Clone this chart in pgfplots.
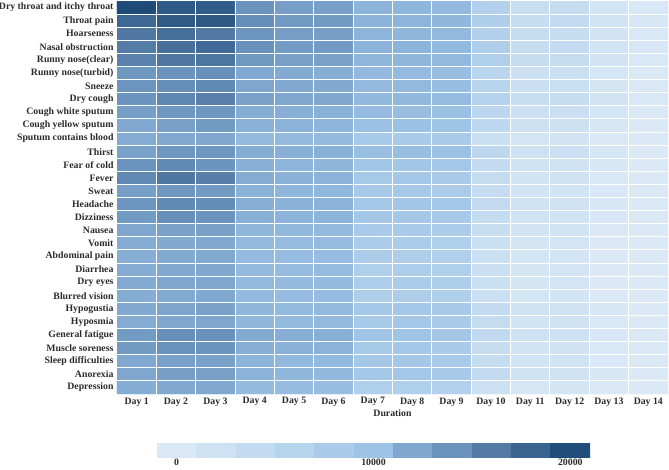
\documentclass[border=0pt]{standalone}
\usepackage{fontspec}
\setmainfont{Liberation Serif}
\usepackage{pgfplots}
\pgfplotsset{compat=1.18}
\definecolor{txt}{HTML}{2B2B2B}
\pgfplotsset{
  colormap={symblue}{
    rgb255(0cm)=(226,238,248) rgb255(1cm)=(219,233,246) rgb255(3cm)=(206,226,243)
    rgb255(5cm)=(195,219,240) rgb255(7cm)=(183,212,237) rgb255(9cm)=(171,203,233)
    rgb255(11cm)=(157,195,230) rgb255(13cm)=(127,167,207) rgb255(15cm)=(106,147,189)
    rgb255(17cm)=(83,123,166) rgb255(19cm)=(58,101,144) rgb255(21cm)=(33,77,122)
    rgb255(22cm)=(27,69,114)
  },
}
\newcommand{\lblfont}{\fontsize{9.8}{11}\selectfont\bfseries}

\begin{document}
\begin{tikzpicture}
\path[use as bounding box] (-117pt,-75pt) rectangle (552pt,394pt);

\begin{axis}[
  at={(0pt,0pt)}, anchor=south west,
  scale only axis, width=551pt, height=393pt,
  xmin=0.5, xmax=14.5, ymin=0.5, ymax=30.5,
  y dir=reverse,
  colormap name=symblue,
  point meta min=-1000, point meta max=21000,
  xtick={1,...,14},
  xticklabels={Day 1,Day 2,Day 3,Day 4,Day 5,Day 6,Day 7,Day 8,Day 9,Day 10,Day 11,Day 12,Day 13,Day 14},
  ytick={1,...,30},
  yticklabels={Dry throat and itchy throat,Throat pain,Hoarseness,Nasal obstruction,
    Runny nose(clear),Runny nose(turbid),Sneeze,Dry cough,Cough white sputum,
    Cough yellow sputum,Sputum contains blood,Thirst,Fear of cold,Fever,Sweat,
    Headache,Dizziness,Nausea,Vomit,Abdominal pain,Diarrhea,Dry eyes,Blurred vision,
    Hypogustia,Hyposmia,General fatigue,Muscle soreness,Sleep difficulties,Anorexia,Depression},
  minor xtick={1.5,2.5,...,13.5},
  minor ytick={1.5,2.5,...,29.5},
  grid=minor,
  minor grid style={white, line width=1pt},
  major tick length=0pt, minor tick length=0pt,
  axis line style={draw=none},
  axis on top,
  tick label style={font=\lblfont, text=txt},
  xlabel={Duration},
  xlabel style={font=\lblfont, text=txt, yshift=3pt},
]
% symptom x day counts (rows top to bottom)
\addplot[matrix plot*, mesh/cols=14, point meta=explicit] coordinates {
(1,1)[20300] (2,1)[18900] (3,1)[18650] (4,1)[14000] (5,1)[12850] (6,1)[12750] (7,1)[11070] (8,1)[10930] (9,1)[10670] (10,1)[6670] (11,1)[3300] (12,1)[3650] (13,1)[1230] (14,1)[300]
(1,2)[17760] (2,2)[18900] (3,2)[19000] (4,2)[14430] (5,2)[13240] (6,2)[13140] (7,2)[11130] (8,2)[11070] (9,2)[10870] (10,2)[7290] (11,2)[3650] (12,2)[4000] (13,2)[1540] (14,2)[460]
(1,3)[16240] (2,3)[17040] (3,3)[16160] (4,3)[13810] (5,3)[12950] (6,3)[12850] (7,3)[11070] (8,3)[10930] (9,3)[10670] (10,3)[6830] (11,3)[3450] (12,3)[3650] (13,3)[1380] (14,3)[300]
(1,4)[15910] (2,4)[16960] (3,4)[17440] (4,4)[14170] (5,4)[13140] (6,4)[13240] (7,4)[11130] (8,4)[11070] (9,4)[10800] (10,4)[7290] (11,4)[3650] (12,4)[4000] (13,4)[1540] (14,4)[460]
(1,5)[15480] (2,5)[16320] (3,5)[16560] (4,5)[13430] (5,5)[12760] (6,5)[12570] (7,5)[10930] (8,5)[10930] (9,5)[10730] (10,5)[7170] (11,5)[3450] (12,5)[3820] (13,5)[1380] (14,5)[300]
(1,6)[13520] (2,6)[14090] (3,6)[14260] (4,6)[11900] (5,6)[11730] (6,6)[11530] (7,6)[10670] (8,6)[10600] (9,6)[10330] (10,6)[5500] (11,6)[2550] (12,6)[2910] (13,6)[920] (14,6)[100]
(1,7)[13810] (2,7)[14430] (3,7)[14870] (4,7)[12090] (5,7)[11930] (6,7)[11800] (7,7)[10670] (8,7)[10670] (9,7)[10400] (10,7)[5670] (11,7)[2730] (12,7)[3090] (13,7)[1080] (14,7)[150]
(1,8)[13900] (2,8)[15040] (3,8)[15560] (4,8)[12480] (5,8)[12090] (6,8)[12000] (7,8)[10800] (8,8)[10800] (9,8)[10530] (10,8)[6330] (11,8)[3300] (12,8)[3650] (13,8)[1380] (14,8)[300]
(1,9)[12850] (2,9)[13520] (3,9)[13710] (4,9)[11600] (5,9)[11470] (6,9)[11330] (7,9)[10530] (8,9)[10400] (9,9)[10200] (10,9)[5330] (11,9)[2550] (12,9)[2730] (13,9)[920] (14,9)[0]
(1,10)[11930] (2,10)[12670] (3,10)[13240] (4,10)[11270] (5,10)[11200] (6,10)[11070] (7,10)[10200] (8,10)[10130] (9,10)[9860] (10,10)[4830] (11,10)[2180] (12,10)[2360] (13,10)[770] (14,10)[0]
(1,11)[11670] (2,11)[11930] (3,11)[12000] (4,11)[10670] (5,11)[10670] (6,11)[10600] (7,11)[8570] (8,11)[8290] (9,11)[8140] (10,11)[3090] (11,11)[1230] (12,11)[1380] (13,11)[150] (14,11)[0]
(1,12)[12570] (2,12)[13620] (3,12)[13710] (4,12)[11600] (5,12)[11400] (6,12)[11330] (7,12)[10330] (8,12)[10330] (9,12)[10130] (10,12)[5170] (11,12)[2360] (12,12)[2550] (13,12)[920] (14,12)[0]
(1,13)[14000] (2,13)[14870] (3,13)[13900] (4,13)[11400] (5,13)[11070] (6,13)[11000] (7,13)[9290] (8,13)[9140] (9,13)[8710] (10,13)[4000] (11,13)[1690] (12,13)[1850] (13,13)[460] (14,13)[0]
(1,14)[14870] (2,14)[16480] (3,14)[15650] (4,14)[11600] (5,14)[11270] (6,14)[11130] (7,14)[8600] (8,14)[8710] (9,14)[8290] (10,14)[3820] (11,14)[1540] (12,14)[1690] (13,14)[300] (14,14)[0]
(1,15)[12850] (2,15)[13520] (3,15)[13240] (4,15)[11270] (5,15)[10930] (6,15)[10870] (7,15)[8430] (8,15)[8570] (9,15)[8000] (10,15)[3450] (11,15)[1380] (12,15)[1540] (13,15)[300] (14,15)[0]
(1,16)[13810] (2,16)[14870] (3,16)[14520] (4,16)[11530] (5,16)[11270] (6,16)[11200] (7,16)[9000] (8,16)[9140] (9,16)[8710] (10,16)[4170] (11,16)[1850] (12,16)[2000] (13,16)[460] (14,16)[0]
(1,17)[13240] (2,17)[14350] (3,17)[14000] (4,17)[11400] (5,17)[11130] (6,17)[11070] (7,17)[8710] (8,17)[8860] (9,17)[8430] (10,17)[3820] (11,17)[1690] (12,17)[1850] (13,17)[460] (14,17)[0]
(1,18)[12090] (2,18)[12570] (3,18)[12670] (4,18)[10930] (5,18)[10800] (6,18)[10730] (7,18)[8140] (8,18)[8140] (9,18)[7670] (10,18)[3300] (11,18)[1380] (12,18)[1540] (13,18)[150] (14,18)[0]
(1,19)[11670] (2,19)[11800] (3,19)[11930] (4,19)[10670] (5,19)[10530] (6,19)[10530] (7,19)[7670] (8,19)[7670] (9,19)[7170] (10,19)[2910] (11,19)[1080] (12,19)[1230] (13,19)[0] (14,19)[0]
(1,20)[11530] (2,20)[11730] (3,20)[11870] (4,20)[10600] (5,20)[10470] (6,20)[10470] (7,20)[7670] (8,20)[7500] (9,20)[7170] (10,20)[2730] (11,20)[1080] (12,20)[1230] (13,20)[0] (14,20)[0]
(1,21)[11600] (2,21)[11930] (3,21)[12000] (4,21)[10670] (5,21)[10530] (6,21)[10530] (7,21)[7170] (8,21)[7500] (9,21)[7170] (10,21)[2730] (11,21)[1080] (12,21)[1230] (13,21)[0] (14,21)[0]
(1,22)[11730] (2,22)[12090] (3,22)[12090] (4,22)[10730] (5,22)[10600] (6,22)[10600] (7,22)[7500] (8,22)[7830] (9,22)[7330] (10,22)[2910] (11,22)[1080] (12,22)[1230] (13,22)[0] (14,22)[0]
(1,23)[11600] (2,23)[11800] (3,23)[11930] (4,23)[10670] (5,23)[10470] (6,23)[10470] (7,23)[7330] (8,23)[7500] (9,23)[7170] (10,23)[2730] (11,23)[1080] (12,23)[1230] (13,23)[0] (14,23)[0]
(1,24)[11800] (2,24)[12290] (3,24)[12480] (4,24)[10930] (5,24)[10730] (6,24)[10730] (7,24)[8710] (8,24)[8860] (9,24)[8430] (10,24)[4000] (11,24)[1690] (12,24)[1850] (13,24)[460] (14,24)[0]
(1,25)[11670] (2,25)[12000] (3,25)[12090] (4,25)[10870] (5,25)[10730] (6,25)[10670] (7,25)[8570] (8,25)[8710] (9,25)[8290] (10,25)[3820] (11,25)[1540] (12,25)[1690] (13,25)[300] (14,25)[0]
(1,26)[13240] (2,26)[14350] (3,26)[14170] (4,26)[11800] (5,26)[11530] (6,26)[11400] (7,26)[9710] (8,26)[9710] (9,26)[9140] (10,26)[4500] (11,26)[2000] (12,26)[2180] (13,26)[620] (14,26)[0]
(1,27)[13240] (2,27)[14170] (3,27)[13900] (4,27)[11530] (5,27)[11270] (6,27)[11200] (7,27)[8570] (8,27)[8710] (9,27)[8140] (10,27)[3650] (11,27)[1540] (12,27)[1690] (13,27)[300] (14,27)[0]
(1,28)[11930] (2,28)[12570] (3,28)[12570] (4,28)[11070] (5,28)[10800] (6,28)[10730] (7,28)[8710] (8,28)[8710] (9,28)[8290] (10,28)[3820] (11,28)[1540] (12,28)[1690] (13,28)[300] (14,28)[0]
(1,29)[12090] (2,29)[12850] (3,29)[12760] (4,29)[11130] (5,29)[10870] (6,29)[10800] (7,29)[8860] (8,29)[8860] (9,29)[8430] (10,29)[4000] (11,29)[1690] (12,29)[1850] (13,29)[460] (14,29)[0]
(1,30)[11600] (2,30)[11930] (3,30)[11930] (4,30)[10600] (5,30)[10470] (6,30)[10400] (7,30)[7170] (8,30)[7170] (9,30)[6670] (10,30)[2550] (11,30)[770] (12,30)[1080] (13,30)[0] (14,30)[0]
};
\end{axis}

% discrete colour scale
\begin{axis}[
  at={(40pt,-63pt)}, anchor=south west,
  scale only axis, width=433pt, height=14pt,
  xmin=-1000, xmax=21000, ymin=-0.5, ymax=1.5,
  colormap name=symblue,
  point meta min=-1000, point meta max=21000,
  xtick={0,10000,20000}, xticklabels={0,10000,20000},
  scaled x ticks=false,
  ytick=\empty,
  major tick length=0pt,
  axis line style={draw=none},
  tick label style={font=\lblfont, text=txt},
  xticklabel style={inner sep=1.5pt, text depth=0pt},
]
\addplot[matrix plot*, mesh/cols=11, point meta=explicit] coordinates {
(0,0)[0] (2000,0)[2000] (4000,0)[4000] (6000,0)[6000] (8000,0)[8000] (10000,0)[10000] (12000,0)[12000] (14000,0)[14000] (16000,0)[16000] (18000,0)[18000] (20000,0)[20000]
(0,1)[0] (2000,1)[2000] (4000,1)[4000] (6000,1)[6000] (8000,1)[8000] (10000,1)[10000] (12000,1)[12000] (14000,1)[14000] (16000,1)[16000] (18000,1)[18000] (20000,1)[20000]
};
\end{axis}
\end{tikzpicture}
\end{document}
